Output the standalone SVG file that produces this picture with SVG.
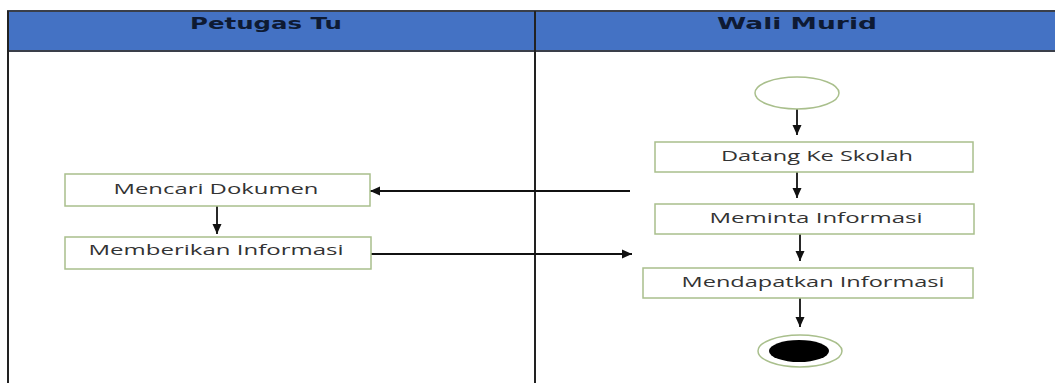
<svg xmlns="http://www.w3.org/2000/svg" width="1055" height="383" viewBox="0 0 1055 383">
<style>
.hdr{fill:#4472c4;stroke:#3a3f4a;stroke-width:2}
.lane{fill:none;stroke:#222;stroke-width:2}
.hdrtxt{font-family:"DejaVu Sans",Verdana,sans-serif;font-weight:bold;font-size:16px;fill:#0e1a33;text-anchor:middle}
.act{fill:#fff;stroke:#a9bf8c;stroke-width:1.5}
.txt{font-family:"Open Sans","DejaVu Sans",sans-serif;font-size:14px;fill:#333;text-anchor:middle}
.conn line{stroke:#111;stroke-width:1.8}
</style>
<defs>
<marker id="ah" viewBox="0 0 10 10" refX="10" refY="5" markerWidth="11" markerHeight="10" markerUnits="userSpaceOnUse" orient="auto">
<path d="M0,0.5 L10,5 L0,9.5 Z" fill="#111"/>
</marker>
</defs>
<rect width="1055" height="383" fill="#fff"/>
<g id="lanes">
<rect class="hdr" x="8" y="11" width="1060" height="40"/>
<line class="lane" x1="535" y1="11" x2="535" y2="383"/>
<line class="lane" x1="8" y1="11" x2="8" y2="383"/>
<text class="hdrtxt" x="266" y="29" textLength="152" lengthAdjust="spacingAndGlyphs">Petugas Tu</text>
<text class="hdrtxt" x="797" y="29" textLength="160" lengthAdjust="spacingAndGlyphs">Wali Murid</text>
</g>
<g class="conn" id="connectors">
<line x1="797" y1="109" x2="797" y2="135" marker-end="url(#ah)"/>
<line x1="797" y1="172" x2="797" y2="198" marker-end="url(#ah)"/>
<line x1="800" y1="234" x2="800" y2="261" marker-end="url(#ah)"/>
<line x1="800" y1="298" x2="800" y2="327" marker-end="url(#ah)"/>
<line x1="217" y1="206" x2="217" y2="234" marker-end="url(#ah)"/>
<line x1="630" y1="191" x2="370" y2="191" marker-end="url(#ah)"/>
<line x1="371" y1="254" x2="632" y2="254" marker-end="url(#ah)"/>
</g>
<g id="start">
<ellipse class="act" cx="797" cy="93" rx="42" ry="16"/>
</g>
<g id="datang">
<rect class="act" x="655" y="142" width="318" height="30"/>
<text class="txt" x="817" y="161" textLength="192" lengthAdjust="spacingAndGlyphs">Datang Ke Skolah</text>
</g>
<g id="meminta">
<rect class="act" x="655" y="204" width="319" height="30"/>
<text class="txt" x="816" y="223" textLength="213" lengthAdjust="spacingAndGlyphs">Meminta Informasi</text>
</g>
<g id="mendapatkan">
<rect class="act" x="643" y="268" width="330" height="30"/>
<text class="txt" x="813" y="287" textLength="263" lengthAdjust="spacingAndGlyphs">Mendapatkan Informasi</text>
</g>
<g id="mencari">
<rect class="act" x="65" y="174" width="305" height="32"/>
<text class="txt" x="216" y="194" textLength="205" lengthAdjust="spacingAndGlyphs">Mencari Dokumen</text>
</g>
<g id="memberikan">
<rect class="act" x="65" y="237" width="306" height="32"/>
<text class="txt" x="216" y="255" textLength="255" lengthAdjust="spacingAndGlyphs">Memberikan Informasi</text>
</g>
<g id="end">
<ellipse class="act" cx="800" cy="351" rx="42" ry="16"/>
<ellipse cx="799" cy="351" rx="30" ry="11" fill="#000"/>
</g>
</svg>
